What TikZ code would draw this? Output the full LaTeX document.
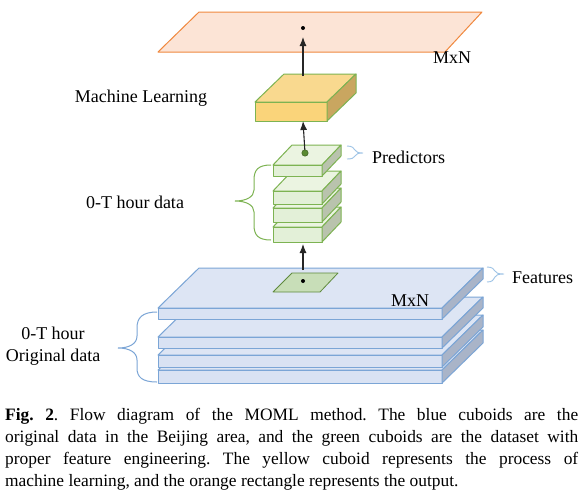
\documentclass[tikz,border=0pt]{standalone}
\usepackage{fontspec}
\setmainfont{Liberation Serif}
\usetikzlibrary{arrows.meta}
\frenchspacing
\definecolor{bordblue}{HTML}{7BA5D6}
\definecolor{topblue}{HTML}{DDE5F4}
\definecolor{frontblue}{HTML}{D9E2F3}
\definecolor{sideblue}{HTML}{A9B4C8}
\definecolor{bordgreen}{HTML}{7DB352}
\definecolor{topgreen}{HTML}{EBF4E1}
\definecolor{frontgreen}{HTML}{E3F0D8}
\definecolor{sidegreen}{HTML}{B9C3AD}
\definecolor{topyellow}{HTML}{F9D98F}
\definecolor{frontyellow}{HTML}{FAD47A}
\definecolor{sideyellow}{HTML}{C9A660}
\definecolor{orangefill}{HTML}{FCE4D6}
\definecolor{orangebord}{HTML}{F0883E}
\definecolor{lightbrace}{HTML}{9DC3E6}
\definecolor{patchfill}{HTML}{C8DEB8}
\definecolor{patchbord}{HTML}{5F8A3D}
\definecolor{dotgreen}{HTML}{5A8A32}
\newcommand{\mycub}[7]{%
  \draw[#7top] (#1,#2) -- ++(#5,-#6) -- ++(#3,0) -- ++(-#5,#6) -- cycle;
  \draw[#7front] (#1,#2) rectangle ++(#3,#4);
  \draw[#7side] (#1+#3,#2) -- ++(#5,-#6) -- ++(0,#4) -- ++(-#5,#6) -- cycle;
}
\tikzset{
  face/.style={line width=1pt, line join=round},
  bluetop/.style={face, draw=bordblue, fill=topblue},
  bluefront/.style={face, draw=bordblue, fill=frontblue},
  blueside/.style={face, draw=bordblue, fill=sideblue},
  greentop/.style={face, draw=bordgreen, fill=topgreen},
  greenfront/.style={face, draw=bordgreen, fill=frontgreen},
  greenside/.style={face, draw=bordgreen, fill=sidegreen},
  yellowtop/.style={face, draw=bordgreen, fill=topyellow},
  yellowfront/.style={face, draw=bordgreen, fill=frontyellow},
  yellowside/.style={face, draw=bordgreen, fill=sideyellow},
  flowarrow/.style={line width=1.1pt, draw=black!85, -{Latex[length=9pt,width=7pt]}},
  label/.style={font=\fontsize{18}{22}\selectfont, inner sep=0pt},
  captionstyle/.style={font=\fontsize{17.4}{22}\selectfont, inner sep=0pt},
  bracebig/.style={line width=1pt},
}
\begin{document}
\begin{tikzpicture}[x=1pt,y=-1pt]
\useasboundingbox (0,0) rectangle (583,496);
\fill[white] (0,0) rectangle (583,496);

% output plane
\draw[face, draw=orangebord, fill=orangefill] (199,12) -- (482,12) -- (445,52) -- (158,52) -- cycle;
\fill (303,28) circle (2);
\node[label] (mxn1) at (452,58) {MxN};

% machine learning cuboid
\mycub{255}{102}{72}{19}{29}{28}{yellow}
\coordinate (mltop) at (303,76);
\coordinate (outdot) at (303,37);
\draw[flowarrow] (mltop) -- (outdot);
\node[label] (ml) at (141,98) {Machine Learning};

% green stack
\mycub{273}{227}{49}{15}{19}{20}{green}
\mycub{273}{208}{49}{14}{19}{20}{green}
\mycub{273}{191}{49}{13}{19}{20}{green}
\mycub{273}{165}{49}{11}{19}{20}{green}
\coordinate (gdot) at (305,153);
\coordinate (mlbot) at (303,121);
\draw[flowarrow] (gdot) -- (mlbot);
\fill[dotgreen, draw=dotgreen!70!black, line width=0.5pt] (gdot) circle (3.2);
\node[label, anchor=west] (pred) at (372,157) {Predictors};
\draw[lightbrace, line width=0.9pt] (347,146) .. controls (352,146) and (354,148) .. (355,150) .. controls (356,152) and (358,153) .. (363,153) .. controls (358,153) and (356,154) .. (355,156) .. controls (354,158) and (352,159) .. (347,159);
\draw[bordgreen, bracebig] (271,165) .. controls (258,165) and (254,170) .. (254,180) -- (254,190) .. controls (254,197) and (246,201) .. (235,201) .. controls (246,201) and (254,205) .. (254,212) -- (254,225) .. controls (254,235) and (258,240) .. (271,240);
\node[label] (otdata) at (135,202) {0-T hour data};

% blue stack
\mycub{158}{370}{284}{13}{41}{40}{blue}
\mycub{158}{355}{284}{12}{41}{40}{blue}
\mycub{158}{337}{284}{11}{41}{40}{blue}
\mycub{158}{308}{284}{11}{41}{40}{blue}
\draw[face, draw=patchbord, fill=patchfill, line width=0.8pt] (292,273) -- (338,273) -- (320,292) -- (273,292) -- cycle;
\fill (303,281) circle (2);
\coordinate (patchtop) at (303,270);
\coordinate (gbot) at (303,244);
\draw[flowarrow] (patchtop) -- (gbot);
\node[label] (mxn2) at (410,301) {MxN};
\node[label, anchor=west] (feat) at (512,278) {Features};
\draw[lightbrace, line width=0.9pt] (487,267) .. controls (492,267) and (494,269) .. (495,271) .. controls (496,273) and (498,274) .. (504,274) .. controls (498,274) and (496,275) .. (495,277) .. controls (494,280) and (492,282) .. (487,282);
\draw[bordblue, bracebig] (157,312) .. controls (142,312) and (137,318) .. (137,328) -- (137,336) .. controls (137,344) and (129,348) .. (118,348) .. controls (129,348) and (137,352) .. (137,360) -- (137,368) .. controls (137,377) and (142,382) .. (157,382);
\node[label, align=center] (orig) at (53,346) {0-T hour\\Original data};

% caption
\node[captionstyle, anchor=base west, text width=573pt, align=justify] (cap) at (5,420) {\textbf{Fig. 2}. Flow diagram of the MOML method. The blue cuboids are the\linebreak original data in the Beijing area, and the green cuboids are the dataset with\linebreak proper feature engineering. The yellow cuboid represents the process of\linebreak machine learning, and the orange rectangle represents the output.};
\end{tikzpicture}
\end{document}
